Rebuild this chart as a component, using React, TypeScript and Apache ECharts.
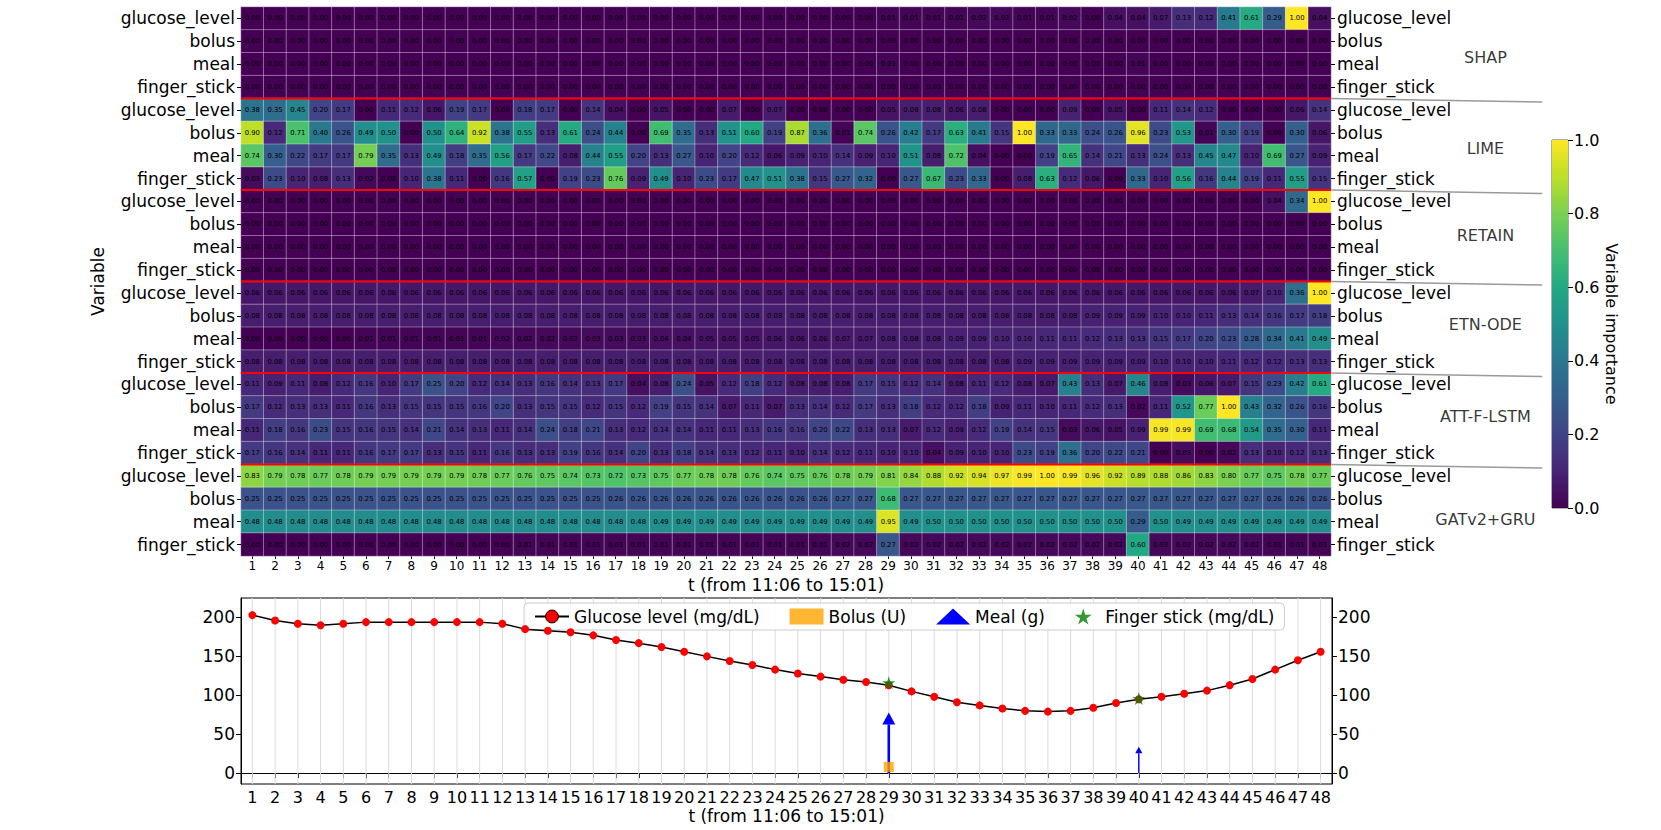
import React, { useEffect, useRef } from "react";
import * as echarts from "echarts";

// ---------------- DATA ----------------
const timeSteps = [
  "1","2","3","4","5","6","7","8","9","10","11","12",
  "13","14","15","16","17","18","19","20","21","22","23","24",
  "25","26","27","28","29","30","31","32","33","34","35","36",
  "37","38","39","40","41","42","43","44","45","46","47","48",
];
const variables = ["glucose_level", "bolus", "meal", "finger_stick"];
const methods = ["SHAP", "LIME", "RETAIN", "ETN-ODE", "ATT-F-LSTM", "GATv2+GRU"];

const shapValues = [
  [0,0,0,0,0,0,0,0,0,0,0,0,
   0,0,0,0,0,0,0,0,0,0,0,0,
   0,0,0,0,0.01,0.01,0.01,0.01,0.02,0.02,0.01,0.01,
   0.02,0,0.04,0.04,0.07,0.13,0.12,0.41,0.61,0.29,1.00,0.04],
  [0,0,0,0,0,0,0,0,0,0,0,0,
   0,0,0,0,0,0,0,0,0,0,0,0,
   0,0,0,0,0,0,0,0,0,0,0,0,
   0,0,0,0,0,0,0,0,0,0,0,0],
  [0,0,0,0,0,0,0,0,0,0,0,0,
   0,0,0,0,0,0,0,0,0,0,0,0,
   0,0,0,0,0.01,0,0,0,0,0,0,0,
   0,0,0,0.01,0,0,0,0,0,0,0,0],
  [0,0,0,0,0,0,0,0,0,0,0,0,
   0,0,0,0,0,0,0,0,0,0,0,0,
   0,0,0,0,0,0,0,0,0,0,0,0,
   0,0,0,0,0,0,0,0,0,0,0,0],
];

const limeValues = [
  [0.38,0.35,0.45,0.20,0.17,0.00,0.11,0.12,0.06,0.19,0.17,0.00,
   0.18,0.17,0.00,0.14,0.04,0.00,0.05,0.00,0.00,0.07,0.00,0.07,
   0.00,0.00,0.00,0.00,0.05,0.08,0.08,0.06,0.08,0.00,0.00,0.00,
   0.09,0.00,0.05,0.00,0.11,0.14,0.12,0.00,0.00,0.00,0.06,0.14],
  [0.90,0.12,0.71,0.40,0.26,0.49,0.50,0.00,0.50,0.64,0.92,0.38,
   0.55,0.13,0.61,0.24,0.44,0.00,0.69,0.35,0.13,0.51,0.60,0.19,
   0.87,0.36,0.01,0.74,0.26,0.42,0.17,0.63,0.41,0.15,1.00,0.33,
   0.33,0.24,0.26,0.96,0.23,0.53,0.01,0.30,0.19,0.00,0.30,0.06],
  [0.74,0.30,0.22,0.17,0.17,0.79,0.35,0.13,0.49,0.18,0.35,0.56,
   0.17,0.22,0.08,0.44,0.55,0.20,0.13,0.27,0.10,0.20,0.12,0.06,
   0.09,0.10,0.14,0.09,0.10,0.51,0.08,0.72,0.04,0.00,0.00,0.19,
   0.65,0.14,0.21,0.13,0.24,0.13,0.45,0.47,0.10,0.69,0.27,0.09],
  [0.03,0.23,0.10,0.08,0.13,0.02,0.00,0.10,0.38,0.11,0.00,0.16,
   0.57,0.00,0.19,0.23,0.76,0.09,0.49,0.10,0.23,0.17,0.47,0.51,
   0.38,0.15,0.27,0.32,0.00,0.27,0.67,0.23,0.33,0.00,0.08,0.63,
   0.12,0.06,0.00,0.33,0.10,0.56,0.16,0.44,0.19,0.11,0.55,0.15],
];

const retainValues = [
  [0,0,0,0,0,0,0,0,0,0,0,0,
   0,0,0,0,0,0,0,0,0,0,0,0,
   0,0,0,0,0,0,0,0,0,0,0,0,
   0,0,0,0,0,0,0,0,0,0.04,0.34,1.00],
  [0,0,0,0,0,0,0,0,0,0,0,0,
   0,0,0,0,0,0,0,0,0,0,0,0,
   0,0,0,0,0,0,0,0,0,0,0,0,
   0,0,0,0,0,0,0,0,0,0,0,0],
  [0,0,0,0,0,0,0,0,0,0,0,0,
   0,0,0,0,0,0,0,0,0,0,0,0,
   0,0,0,0,0,0,0,0,0,0,0,0,
   0,0,0,0,0,0,0,0,0,0,0,0],
  [0,0,0,0,0,0,0,0,0,0,0,0,
   0,0,0,0,0,0,0,0,0,0,0,0,
   0,0,0,0,0,0,0,0,0,0,0,0,
   0,0,0,0,0,0,0,0,0,0,0,0],
];

const etnOdeValues = [
  [0.06,0.06,0.06,0.06,0.06,0.06,0.06,0.06,0.06,0.06,0.06,0.06,
   0.06,0.06,0.06,0.06,0.06,0.06,0.06,0.06,0.06,0.06,0.06,0.06,
   0.06,0.06,0.06,0.06,0.06,0.06,0.06,0.06,0.06,0.06,0.06,0.06,
   0.06,0.06,0.06,0.06,0.06,0.06,0.06,0.06,0.07,0.10,0.36,1.00],
  [0.08,0.08,0.08,0.08,0.08,0.08,0.08,0.08,0.08,0.08,0.08,0.08,
   0.08,0.08,0.08,0.08,0.08,0.08,0.08,0.08,0.08,0.08,0.08,0.08,
   0.08,0.08,0.08,0.08,0.08,0.08,0.08,0.08,0.08,0.08,0.08,0.08,
   0.08,0.09,0.09,0.09,0.10,0.10,0.11,0.13,0.14,0.16,0.17,0.18],
  [0.00,0.00,0.00,0.00,0.00,0.01,0.01,0.01,0.01,0.01,0.01,0.02,
   0.02,0.02,0.02,0.03,0.03,0.03,0.04,0.04,0.05,0.05,0.05,0.06,
   0.06,0.06,0.07,0.07,0.08,0.08,0.08,0.09,0.09,0.10,0.10,0.11,
   0.11,0.12,0.13,0.13,0.15,0.17,0.20,0.23,0.28,0.34,0.41,0.49],
  [0.08,0.08,0.08,0.08,0.08,0.08,0.08,0.08,0.08,0.08,0.08,0.08,
   0.08,0.08,0.08,0.08,0.08,0.08,0.08,0.08,0.08,0.08,0.08,0.08,
   0.08,0.08,0.08,0.08,0.08,0.08,0.08,0.08,0.08,0.08,0.09,0.09,
   0.09,0.09,0.09,0.09,0.10,0.10,0.10,0.11,0.12,0.12,0.13,0.13],
];

const attFLstmValues = [
  [0.11,0.09,0.11,0.08,0.12,0.16,0.10,0.17,0.25,0.20,0.12,0.14,
   0.13,0.16,0.14,0.13,0.17,0.04,0.08,0.24,0.05,0.12,0.18,0.12,
   0.08,0.08,0.08,0.17,0.15,0.12,0.14,0.08,0.11,0.12,0.08,0.07,
   0.43,0.13,0.07,0.46,0.08,0.03,0.06,0.07,0.15,0.23,0.42,0.61],
  [0.17,0.12,0.13,0.13,0.11,0.16,0.13,0.15,0.15,0.15,0.16,0.20,
   0.13,0.15,0.15,0.12,0.15,0.12,0.19,0.15,0.14,0.07,0.11,0.07,
   0.13,0.14,0.12,0.17,0.13,0.18,0.12,0.12,0.18,0.09,0.11,0.10,
   0.11,0.12,0.13,0.02,0.11,0.52,0.77,1.00,0.43,0.32,0.26,0.16],
  [0.11,0.18,0.16,0.23,0.15,0.16,0.15,0.14,0.21,0.14,0.13,0.11,
   0.14,0.24,0.18,0.21,0.13,0.12,0.14,0.14,0.11,0.11,0.13,0.16,
   0.16,0.20,0.22,0.13,0.13,0.07,0.12,0.09,0.12,0.19,0.14,0.15,
   0.03,0.06,0.05,0.09,0.99,0.99,0.69,0.68,0.54,0.35,0.30,0.11],
  [0.17,0.16,0.14,0.11,0.11,0.16,0.17,0.17,0.13,0.15,0.11,0.16,
   0.13,0.13,0.19,0.16,0.14,0.20,0.13,0.18,0.14,0.13,0.12,0.11,
   0.10,0.14,0.12,0.11,0.10,0.10,0.04,0.09,0.10,0.10,0.23,0.19,
   0.36,0.20,0.22,0.21,0.00,0.03,0.00,0.02,0.13,0.10,0.12,0.13],
];

const gatv2GruValues = [
  [0.83,0.79,0.78,0.77,0.78,0.79,0.79,0.79,0.79,0.79,0.78,0.77,
   0.76,0.75,0.74,0.73,0.72,0.73,0.75,0.77,0.78,0.78,0.76,0.74,
   0.75,0.76,0.78,0.79,0.81,0.84,0.88,0.92,0.94,0.97,0.99,1.00,
   0.99,0.96,0.92,0.89,0.88,0.86,0.83,0.80,0.77,0.75,0.78,0.77],
  [0.25,0.25,0.25,0.25,0.25,0.25,0.25,0.25,0.25,0.25,0.25,0.25,
   0.25,0.25,0.25,0.25,0.26,0.26,0.26,0.26,0.26,0.26,0.26,0.26,
   0.26,0.26,0.27,0.27,0.68,0.27,0.27,0.27,0.27,0.27,0.27,0.27,
   0.27,0.27,0.27,0.27,0.27,0.27,0.27,0.27,0.27,0.26,0.26,0.26],
  [0.48,0.48,0.48,0.48,0.48,0.48,0.48,0.48,0.48,0.48,0.48,0.48,
   0.48,0.48,0.48,0.48,0.48,0.48,0.49,0.49,0.49,0.49,0.49,0.49,
   0.49,0.49,0.49,0.49,0.95,0.49,0.50,0.50,0.50,0.50,0.50,0.50,
   0.50,0.50,0.50,0.29,0.50,0.49,0.49,0.49,0.49,0.49,0.49,0.49],
  [0.00,0.00,0.00,0.00,0.00,0.00,0.00,0.00,0.00,0.00,0.00,0.00,
   0.01,0.01,0.01,0.01,0.01,0.01,0.01,0.01,0.01,0.01,0.01,0.01,
   0.01,0.01,0.02,0.02,0.27,0.02,0.02,0.02,0.02,0.02,0.02,0.02,
   0.02,0.02,0.02,0.60,0.02,0.02,0.02,0.02,0.02,0.01,0.01,0.01],
];

const glucoseLevel = [
  203,196,192,190,192,194,194,194,194,194,194,192,
  185,183,181,177,171,167,162,156,150,144,139,133,
  128,124,120,117,113,105,98,91,87,83,80,79,
  80,84,90,95,98,102,106,113,121,133,145,156,
];
const bolusTimes = ["29"];
const bolusUnits = [8];
const mealTimes = ["29", "40"];
const mealGrams = [78, 34];
const fingerTimes = ["29", "40"];
const fingerValues = [116, 96];
const glucoseTicks = [0, 50, 100, 150, 200];

// ---------------- STYLE / LAYOUT ----------------
const FONT = "DejaVu Sans";
const VIRIDIS = [
  "#440154", "#482475", "#414487", "#355f8d", "#2a788e", "#21918c",
  "#22a884", "#44bf70", "#7ad151", "#bddf26", "#fde725",
];
const STAR = "path://M50,0 L61,35 L98,35 L68,57 L79,91 L50,70 L21,91 L32,57 L2,35 L39,35 Z";
const HEAT = { left: 241, top: 7, width: 1090, height: 549 };
const BOTTOM = { left: 241, top: 598, width: 1091, height: 186 };
const CBAR = { left: 1552, top: 140, width: 16, height: 368 };
const LABEL_ROWS = [2.2, 6.2, 10.0, 13.9, 17.9, 22.4];
const LABEL_X = 54.8;
const CONNECTOR_END_X = 57.3;
const CONNECTOR_DROP = 0.15;

export default function App() {
  const ref = useRef<HTMLDivElement>(null);

  useEffect(() => {
    document.body.style.margin = "0";
    if (!ref.current) return;
    const chart = echarts.init(ref.current, undefined, { renderer: "svg" });

    const methodValues = [shapValues, limeValues, retainValues, etnOdeValues, attFLstmValues, gatv2GruValues];
    const nVar = variables.length;
    const nRows = methods.length * nVar;
    const nCols = timeSteps.length;
    const rowIds: string[] = [];
    methods.forEach((m, mi) => variables.forEach((v) => rowIds.push(mi + "|" + v)));
    const heatData: number[][] = [];
    methodValues.forEach((rows, mi) =>
      rows.forEach((row, vi) => row.forEach((val, ti) => heatData.push([ti, mi * nVar + vi, val])))
    );
    const boundaries = methods.slice(1).map((_, i) => (i + 1) * nVar);
    const rowLabel = (v: string) => v.split("|")[1];

    const catYAxis = (position: "left" | "right") => ({
      type: "category",
      gridIndex: 0,
      position,
      inverse: true,
      data: rowIds,
      axisLine: { show: false },
      axisTick: { show: true, alignWithLabel: true, length: 4, lineStyle: { color: "#000" } },
      axisLabel: {
        formatter: rowLabel,
        fontSize: 17,
        color: "#000",
        fontFamily: FONT,
        margin: 6,
        interval: 0,
      },
      splitLine: { show: false },
      z: 3,
    });

    const maxMeal = Math.max(...mealGrams);

    const series: any[] = [
      {
        type: "heatmap",
        xAxisIndex: 0,
        yAxisIndex: 0,
        data: heatData,
        label: {
          show: true,
          formatter: (p: any) => p.value[2].toFixed(2),
          fontSize: 6.8,
          color: "#000",
          fontFamily: FONT,
        },
        itemStyle: { borderColor: "rgba(255,255,255,0.35)", borderWidth: 1 },
        emphasis: { disabled: true },
      },
    ];
    boundaries.forEach((b) => {
      series.push({
        type: "line",
        xAxisIndex: 1,
        yAxisIndex: 2,
        data: [[0, b], [nCols, b]],
        symbol: "none",
        lineStyle: { color: "#ff0000", width: 2 },
        silent: true,
        z: 5,
      });
    });
    // grey connector lines to the group names
    series.push({
      type: "custom",
      xAxisIndex: 1,
      yAxisIndex: 2,
      silent: true,
      clip: false,
      z: 1,
      data: boundaries.map((b) => [b]),
      encode: { y: 0 },
      renderItem: (params: any, api: any) => {
        const b = api.value(0);
        const p0 = api.coord([nCols, b]);
        const p1 = api.coord([CONNECTOR_END_X, b + CONNECTOR_DROP]);
        return {
          type: "line",
          shape: { x1: p0[0], y1: p0[1], x2: p1[0], y2: p1[1] },
          style: { stroke: "#9a9a9a", lineWidth: 1.5 },
        };
      },
    });
    series.push({
      type: "scatter",
      xAxisIndex: 1,
      yAxisIndex: 2,
      clip: false,
      symbolSize: 0,
      silent: true,
      data: methods.map((m, i) => ({ value: [LABEL_X, LABEL_ROWS[i]], name: m })),
      label: {
        show: true,
        position: "inside",
        formatter: (p: any) => p.name,
        fontSize: 16,
        color: "#000",
        fontFamily: FONT,
      },
    });

    // bottom chart: vertical grid lines at every time step
    series.push({
      type: "custom",
      xAxisIndex: 2,
      yAxisIndex: 3,
      silent: true,
      z: 1,
      data: timeSteps.map((_, i) => [i]),
      encode: { x: 0 },
      renderItem: (params: any, api: any) => {
        const cs = params.coordSys;
        const x = api.coord([api.value(0), 0])[0];
        return {
          type: "line",
          shape: { x1: x, y1: cs.y, x2: x, y2: cs.y + cs.height },
          style: { stroke: "#dcdcdc", lineWidth: 1 },
        };
      },
    });
    series.push({
      name: "Glucose level (mg/dL)",
      type: "line",
      xAxisIndex: 2,
      yAxisIndex: 3,
      data: glucoseLevel,
      symbol: "circle",
      symbolSize: 8,
      itemStyle: { color: "#ff0000" },
      lineStyle: { color: "#000", width: 1.5 },
      z: 4,
    });
    series.push({
      name: "Bolus (U)",
      type: "scatter",
      xAxisIndex: 2,
      yAxisIndex: 3,
      symbol: "rect",
      symbolSize: 10,
      itemStyle: { color: "#ffa500" },
      data: bolusTimes.map((t, i) => [t, bolusUnits[i]]),
      z: 6,
    });
    series.push({
      name: "Meal (g)",
      type: "custom",
      xAxisIndex: 2,
      yAxisIndex: 3,
      itemStyle: { color: "#0000ff" },
      data: mealTimes.map((t, i) => [timeSteps.indexOf(t), mealGrams[i]]),
      encode: { x: 0, y: 1 },
      z: 5,
      renderItem: (params: any, api: any) => {
        const idx = api.value(0);
        const v = api.value(1);
        const s = Math.max(0.55, v / maxMeal);
        const base = api.coord([idx, 0]);
        const tip = api.coord([idx, v]);
        const hl = 12 * s;
        const hw = 6.5 * s;
        return {
          type: "group",
          children: [
            {
              type: "line",
              shape: { x1: base[0], y1: base[1], x2: tip[0], y2: tip[1] + hl },
              style: { stroke: "#0000ff", lineWidth: 2.6 * s },
            },
            {
              type: "polygon",
              shape: { points: [[tip[0], tip[1]], [tip[0] - hw, tip[1] + hl], [tip[0] + hw, tip[1] + hl]] },
              style: { fill: "#0000ff" },
            },
          ],
        };
      },
    });
    series.push({
      name: "Finger stick (mg/dL)",
      type: "scatter",
      xAxisIndex: 2,
      yAxisIndex: 3,
      symbol: STAR,
      symbolSize: 13,
      itemStyle: { color: "#008000" },
      data: fingerTimes.map((t, i) => [t, fingerValues[i]]),
      z: 6,
    });
    // colorbar
    series.push({
      type: "bar",
      xAxisIndex: 3,
      yAxisIndex: 5,
      data: [1],
      barWidth: "100%",
      silent: true,
      itemStyle: {
        color: new echarts.graphic.LinearGradient(
          0, 1, 0, 0,
          VIRIDIS.map((c, i) => ({ offset: i / (VIRIDIS.length - 1), color: c }))
        ),
      },
    });

    const bottomYAxis = (position: "left" | "right") => ({
      type: "value",
      gridIndex: 2,
      position,
      min: -14,
      max: 225,
      axisLine: { show: true, lineStyle: { color: "#000" } },
      axisTick: { show: true, length: 5, customValues: glucoseTicks, lineStyle: { color: "#000" } },
      axisLabel: {
        customValues: glucoseTicks,
        fontSize: 17,
        color: "#000",
        fontFamily: FONT,
        margin: 6,
      },
      splitLine: { show: false },
    });

    const option: any = {
      animation: false,
      textStyle: { fontFamily: FONT },
      grid: [
        { ...HEAT, containLabel: false },
        { ...HEAT, containLabel: false },
        { ...BOTTOM, containLabel: false, show: true, borderColor: "#000", borderWidth: 1, backgroundColor: "transparent" },
        { ...CBAR, containLabel: false, show: true, borderColor: "#333", borderWidth: 0.8 },
      ],
      visualMap: {
        show: false,
        type: "continuous",
        min: 0,
        max: 1,
        dimension: 2,
        seriesIndex: 0,
        inRange: { color: VIRIDIS },
      },
      legend: {
        left: 524,
        top: 603,
        orient: "horizontal",
        data: [
          { name: "Glucose level (mg/dL)", itemStyle: { color: "#ff0000", borderColor: "#000", borderWidth: 1 } },
          { name: "Bolus (U)", icon: "rect" },
          { name: "Meal (g)", icon: "triangle", itemStyle: { color: "#0000ff" } },
          { name: "Finger stick (mg/dL)", icon: STAR },
        ],
        itemWidth: 34,
        itemHeight: 16,
        itemGap: 30,
        textStyle: { fontSize: 17, color: "#000", fontFamily: FONT },
        borderColor: "#cccccc",
        borderWidth: 1,
        borderRadius: 4,
        padding: [5, 10],
        backgroundColor: "rgba(255,255,255,0.85)",
        selectedMode: false,
      },
      xAxis: [
        {
          type: "category",
          gridIndex: 0,
          data: timeSteps,
          position: "bottom",
          axisLine: { show: false },
          axisTick: { show: true, alignWithLabel: true, length: 3, lineStyle: { color: "#000" } },
          axisLabel: { interval: 0, fontSize: 12, color: "#000", fontFamily: FONT, margin: 4 },
          splitLine: { show: false },
          name: "t (from 11:06 to 15:01)",
          nameLocation: "middle",
          nameGap: 17,
          nameTextStyle: { fontSize: 17, color: "#000", fontFamily: FONT },
        },
        { type: "value", gridIndex: 1, min: 0, max: nCols, show: false },
        {
          type: "category",
          gridIndex: 2,
          data: timeSteps,
          boundaryGap: true,
          axisLine: { show: true, lineStyle: { color: "#000" } },
          axisTick: { show: true, alignWithLabel: true, length: 5, lineStyle: { color: "#000" } },
          axisLabel: { interval: 0, fontSize: 16, color: "#000", fontFamily: FONT, margin: 5 },
          splitLine: { show: false },
          name: "t (from 11:06 to 15:01)",
          nameLocation: "middle",
          nameGap: 23,
          nameTextStyle: { fontSize: 17, color: "#000", fontFamily: FONT },
        },
        { type: "category", gridIndex: 3, data: ["c"], show: false },
      ],
      yAxis: [
        {
          ...catYAxis("left"),
          name: "Variable",
          nameLocation: "middle",
          nameRotate: 90,
          nameGap: 135,
          nameTextStyle: { fontSize: 17, color: "#000", fontFamily: FONT },
        },
        catYAxis("right"),
        { type: "value", gridIndex: 1, min: 0, max: nRows, inverse: true, show: false },
        bottomYAxis("left"),
        bottomYAxis("right"),
        {
          type: "value",
          gridIndex: 3,
          position: "right",
          min: 0,
          max: 1,
          interval: 0.2,
          axisLine: { show: false },
          axisTick: { show: true, length: 5, lineStyle: { color: "#000" } },
          axisLabel: { formatter: (v: number) => v.toFixed(1), fontSize: 16, color: "#000", fontFamily: FONT, margin: 6 },
          splitLine: { show: false },
          name: "Variable importance",
          nameLocation: "middle",
          nameRotate: -90,
          nameGap: 34,
          nameTextStyle: { fontSize: 16, color: "#000", fontFamily: FONT },
        },
      ],
      series,
    };

    chart.setOption(option);
    return () => chart.dispose();
  }, []);

  return <div ref={ref} style={{ width: 1661, height: 830 }} />;
}
